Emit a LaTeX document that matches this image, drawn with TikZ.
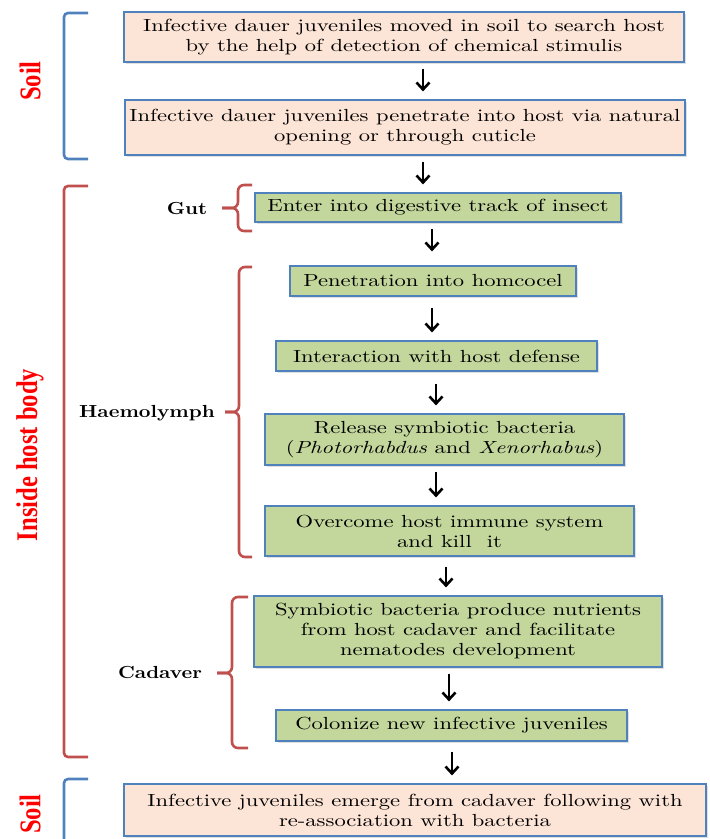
\documentclass[tikz,border=0pt]{standalone}
\usepackage{fontspec}
\newfontfamily\timesfont{Liberation Serif}[FakeStretch=0.82]
\newfontfamily\boxfont{lmroman10}[Extension=.otf,UprightFont=*-regular,
  BoldFont=*-bold,ItalicFont=*-italic,BoldItalicFont=*-bolditalic,FakeStretch=1.29]
\newfontfamily\partfont{lmroman10}[Extension=.otf,UprightFont=*-bold,FakeStretch=1.16]
\definecolor{boxblue}{RGB}{79,129,189}
\definecolor{bracered}{RGB}{192,80,77}
\definecolor{soilfill}{RGB}{252,228,214}
\definecolor{hostfill}{RGB}{195,214,155}
\usetikzlibrary{arrows.meta,shadows}

\begin{document}
\begin{tikzpicture}[
  x=1pt,y=-1pt,
  every node/.style={font=\boxfont\fontsize{17.5}{20}\selectfont},
  flowbox/.style={draw=boxblue,line width=1.2pt,align=center,inner sep=2pt,
                  drop shadow={shadow xshift=2pt,shadow yshift=-2pt,opacity=0.25}},
  soilbox/.style={flowbox,fill=soilfill},
  hostbox/.style={flowbox,fill=hostfill},
  flow/.style={-{Straight Barb[length=7pt,width=13pt]},line width=2.6pt,
               shorten <=6pt,shorten >=8pt},
  bracket/.style={line width=2.6pt,rounded corners=4pt},
  brace/.style={bracket,draw=bracered,rounded corners=6pt},
  zone/.style={font=\timesfont\fontsize{30}{32}\selectfont\bfseries,text=red,rotate=90},
  part/.style={font=\partfont\fontsize{17.5}{20}\selectfont},
]
  \useasboundingbox (0,0) rectangle (710,839);

  % Soil (top)
  \node[soilbox,minimum width=560,minimum height=50] (b1) at (404,37)
    {Infective dauer juveniles moved in soil to search host\\by the help of detection of chemical stimulis};
  \node[soilbox,minimum width=560,minimum height=55] (b2) at (405,127.5)
    {Infective dauer juveniles penetrate into host via natural\\opening or through cuticle};

  % Gut
  \node[hostbox,minimum width=366,minimum height=29] (gut) at (438,207.5)
    {Enter into digestive track of insect};

  % Haemolymph
  \node[hostbox,minimum width=286,minimum height=30] (h1) at (433,281)
    {Penetration into homcocel};
  \node[hostbox,minimum width=321,minimum height=30] (h2) at (436.5,356)
    {Interaction with host defense};
  \node[hostbox,minimum width=359,minimum height=51] (h3) at (444.5,439.5)
    {Release symbiotic bacteria\\(\textit{Photorhabdus} and \textit{Xenorhabus})};
  \node[hostbox,minimum width=369,minimum height=50] (h4) at (449.5,531)
    {Overcome host immune system\\and kill~ it};

  % Cadaver
  \node[hostbox,minimum width=408,minimum height=71] (c1) at (458,631.5)
    {Symbiotic bacteria produce nutrients\\from host cadaver and facilitate\\nematodes development};
  \node[hostbox,minimum width=351,minimum height=31] (c2) at (451.5,725.5)
    {Colonize new infective juveniles};

  % Soil (bottom)
  \node[soilbox,minimum width=582,minimum height=52] (b3) at (415,810)
    {Infective juveniles emerge from cadaver following with\\re-association with bacteria};

  % Arrows
  \draw[flow] (b1.south -| 423,0) -- (b2.north -| 423,0);
  \draw[flow] (b2.south -| 423,0) -- (gut.north -| 423,0);
  \draw[flow,shorten >=14pt] (gut.south -| 432,0) -- (h1.north -| 432,0);
  \draw[flow,shorten <=11pt] (h1.south -| 432,0) -- (h2.north -| 432,0);
  \draw[flow,shorten <=12pt] (h2.south -| 436,0) -- (h3.north -| 436,0);
  \draw[flow] (h3.south -| 436,0) -- (h4.north -| 436,0);
  \draw[flow,shorten <=10pt] (h4.south -| 446,0) -- (c1.north -| 446,0);
  \draw[flow] (c1.south -| 449,0) -- (c2.north -| 449,0);
  \draw[flow,shorten <=10pt] (c2.south -| 452,0) -- (b3.north -| 452,0);

  % Brackets
  \draw[bracket,draw=boxblue] (88,13) -- (64,13) -- (64,159) -- (88,159);
  \draw[bracket,draw=bracered] (88,186) -- (64,186) -- (64,757) -- (88,757);
  \draw[bracket,draw=boxblue] (88,779) -- (64,779) -- (64,850);
  \node[zone] (soil1) at (30,81) {Soil};
  \node[zone] (host) at (30,455) {Inside host body};
  \node[zone] (soil2) at (30,814) {Soil};

  % Braces
  \draw[brace] (252,185) -- (238,185) -- (238,208) -- (222,208);
  \draw[brace] (222,208) -- (238,208) -- (238,231) -- (252,231);
  \draw[brace] (252,267) -- (239,267) -- (239,412) -- (225,412);
  \draw[brace] (225,412) -- (239,412) -- (239,557) -- (252,557);
  \draw[brace] (248,597) -- (232,597) -- (232,673) -- (217,673);
  \draw[brace] (217,673) -- (232,673) -- (232,748) -- (248,748);
  \node[part] (lgut) at (187,208) {Gut};
  \node[part] (lhaemo) at (147,413) {Haemolymph};
  \node[part] (lcad) at (160,672) {Cadaver};
\end{tikzpicture}
\end{document}
